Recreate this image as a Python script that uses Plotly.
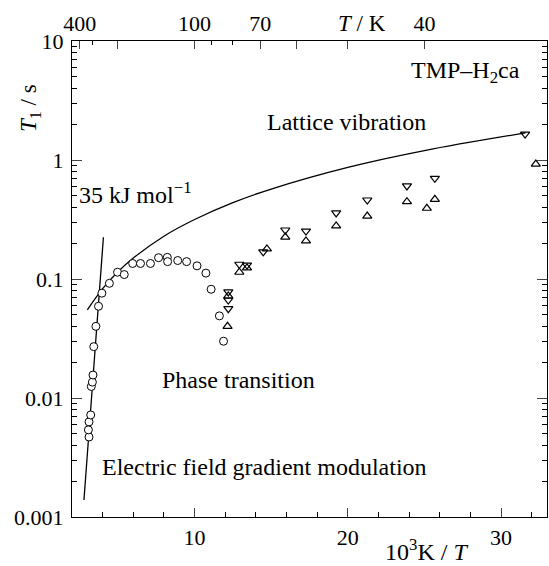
import plotly.graph_objects as go

# --- data ---
circ_x = [3.11, 3.07, 3.11, 3.22, 3.26, 3.33, 3.37, 3.42, 3.56, 3.73, 3.95, 4.44, 4.97, 5.41,
          5.96, 6.47, 7.12, 7.65, 8.22, 8.24, 8.90, 9.48, 10.16, 10.74, 11.08, 11.62, 11.89]
circ_y = [0.0047, 0.0054, 0.0063, 0.0072, 0.0125, 0.0136, 0.0156, 0.027, 0.040, 0.059, 0.076,
          0.092, 0.114, 0.109, 0.135, 0.135, 0.135, 0.151, 0.152, 0.140, 0.143, 0.140, 0.129,
          0.112, 0.082, 0.049, 0.030]

up_x = [12.2, 12.15, 12.92, 13.42, 14.72, 15.92, 17.27, 19.24, 21.27, 23.86, 25.16, 25.68, 32.27]
up_y = [0.072, 0.040, 0.114, 0.124, 0.179, 0.225, 0.209, 0.279, 0.338, 0.447, 0.393, 0.467, 0.925]

dn_x = [12.2, 12.2, 12.2, 12.92, 13.42, 14.48, 15.92, 17.27, 19.24, 21.27, 23.86, 25.68, 31.57]
dn_y = [0.0778, 0.0665, 0.0563, 0.133, 0.131, 0.169, 0.258, 0.253, 0.359, 0.461, 0.605, 0.702, 1.65]

efg_x = [2.78, 4.05]
efg_y = [0.00139, 0.224]

lat_x = [3.0, 4, 5, 6, 8, 10, 12.5, 15, 20, 25, 31.6]
lat_y = [0.055, 0.083, 0.115, 0.150, 0.229, 0.316, 0.438, 0.570, 0.867, 1.20, 1.69]

top_T_major = [400, 200, 100, 70, 60, 50, 40]
top_T_text = ['400', '', '100', '70', '', '', '40']
top_T_minor = [300, 90, 80]

y_tickvals = [0.001, 0.01, 0.1, 1, 10]
y_ticktext = ['0.001', '0.01', '0.1', '1', '10']

FONT = "Liberation Serif"
TICK = 22
ANN = 24
L, R, T, B = 72, 547, 41, 517

fig = go.Figure()
fig.add_trace(go.Scatter(x=efg_x, y=efg_y, mode='lines', line=dict(color='black', width=1.3),
                         showlegend=False))
fig.add_trace(go.Scatter(x=lat_x, y=lat_y, mode='lines', line=dict(color='black', width=1.3, shape='spline'),
                         showlegend=False))
fig.add_trace(go.Scatter(x=circ_x, y=circ_y, mode='markers',
                         marker=dict(symbol='circle', size=8, color='white', line=dict(color='black', width=1)),
                         showlegend=False))
fig.add_trace(go.Scatter(x=up_x, y=up_y, mode='markers',
                         marker=dict(symbol='triangle-up-open', size=8, color='black', line=dict(width=1.2)),
                         showlegend=False))
fig.add_trace(go.Scatter(x=dn_x, y=dn_y, mode='markers',
                         marker=dict(symbol='triangle-down-open', size=8, color='black', line=dict(width=1.2)),
                         showlegend=False))
# dummy trace to activate top axis
fig.add_trace(go.Scatter(x=[None], y=[None], xaxis='x2', yaxis='y', showlegend=False))

fig.update_layout(
    width=549, height=566,
    margin=dict(l=L, r=549 - R, t=T, b=566 - B, autoexpand=False),
    paper_bgcolor='white', plot_bgcolor='white',
    font=dict(family=FONT, size=20, color='black'),
    xaxis=dict(range=[2, 33], tickvals=[10, 20, 30], ticks='inside', ticklen=9, tickwidth=1,
               showline=True, linecolor='black', linewidth=1.2, mirror=False, showgrid=False,
               zeroline=False, automargin=False, tickfont=dict(size=TICK, family=FONT),
               minor=dict(tickvals=[4, 6, 8, 12, 14, 16, 18, 22, 24, 26, 28, 32], ticks='inside',
                          ticklen=5, tickcolor='black', showgrid=False)),
    xaxis2=dict(range=[2, 33], overlaying='x', side='top',
                tickvals=[1000 / t for t in top_T_major], ticktext=top_T_text,
                ticks='inside', ticklen=8, tickwidth=1, showline=True, linecolor='black', linewidth=1.2,
                showgrid=False, zeroline=False, automargin=False, tickfont=dict(size=TICK, family=FONT),
                minor=dict(tickvals=[1000 / t for t in top_T_minor], ticks='inside', ticklen=4,
                           tickcolor='black', showgrid=False)),
    yaxis=dict(type='log', range=[-3, 1], tickvals=y_tickvals, ticktext=y_ticktext,
               ticks='inside', ticklen=10, tickwidth=1, showline=True, linecolor='black', linewidth=1.2,
               mirror='ticks', showgrid=False, zeroline=False, automargin=False,
               ticklabelstandoff=3,
               tickfont=dict(size=TICK, family=FONT),
               minor=dict(ticks='inside', ticklen=5, tickcolor='black', showgrid=False,
                          tickvals=[m * 10.0 ** e for e in range(-3, 1) for m in range(2, 10)])),
)

ann = [
    dict(text='<i>T</i><sub>1</sub> / s', x=30, y=108, textangle=-90, size=23),
    dict(text='10<sup>3</sup>K / <i>T</i>', x=426, y=550, size=24),
    dict(text='<i>T</i> / K', x=362, y=24, size=23),
]
for a in ann:
    fig.add_annotation(text=a['text'], xref='paper', yref='paper',
                       x=(a['x'] - L) / (R - L), y=1 - (a['y'] - T) / (B - T),
                       showarrow=False, textangle=a.get('textangle', 0),
                       font=dict(size=a['size'], family=FONT), xanchor='center', yanchor='middle')

labels = [
    ('TMP–H<sub>2</sub>ca', 27.66, 0.739, 'center'),
    ('Lattice vibration', 19.93, 0.319, 'center'),
    ('35 kJ mol<sup>−1</sup>', 2.3, -0.275, 'left'),
    ('Phase transition', 12.88, -1.849, 'center'),
    ('Electric field gradient modulation', 3.85, -2.58, 'left'),
]
for t, x, y, anc in labels:
    fig.add_annotation(text=t, x=x, y=y, xref='x', yref='y', showarrow=False,
                       xanchor=anc, yanchor='middle', font=dict(size=ANN, family=FONT))

fig.write_html("out.html", config={'displayModeBar': False},
               post_script="document.body.style.margin='0';document.body.style.overflow='hidden';")
